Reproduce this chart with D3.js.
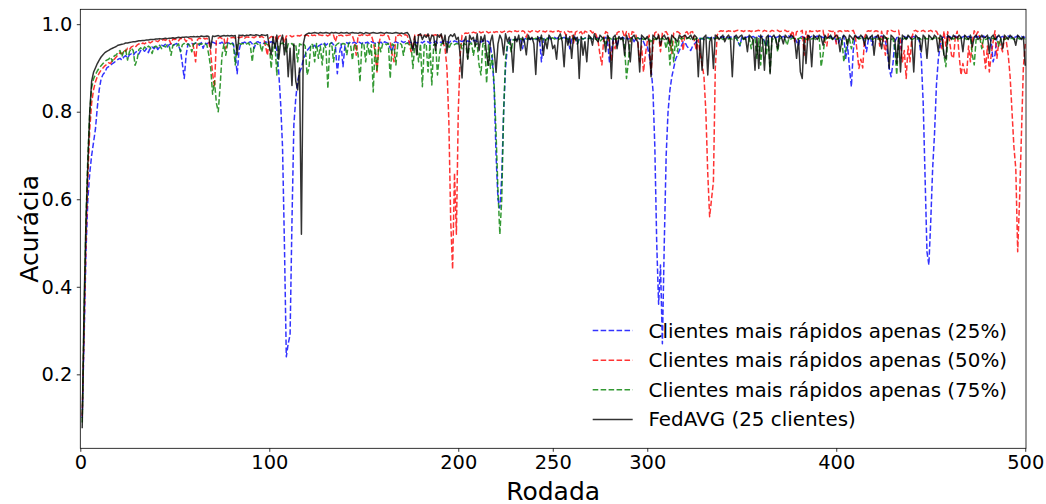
<!DOCTYPE html>
<html>
<meta charset="utf-8">
<head>
	<title>Acurácia por rodada</title>
	<script type="text/javascript" src="https://cdnjs.cloudflare.com/ajax/libs/d3/7.8.5/d3.min.js"></script>
	<style>
		body { margin: 0; background: #fff; }
		text { font-family: "DejaVu Sans", sans-serif; fill: #000; }
	</style>
</head>
<body>
	<div class="chart-container"></div>

<script type="text/javascript">
// acuracia por rodada (rodada 1 .. 500)
var rapidos25 = [
 .10,.28,.48,.60,.66,.70,.73,.76,.81,.85,.875,.885,.89,.90,.903,.906,.91,.913,.916,
 .92,.922,.918,.925,.928,.922,.93,.932,.928,.935,.938,.932,.94,.942,.938,.944,.935,.946,.948,.944,
 .95,.942,.948,.952,.95,.954,.948,.953,.955,.951,.954,.956,.95,.94,.91,.876,.93,.955,.953,.956,
 .954,.957,.955,.952,.958,.945,.957,.955,.958,.956,.959,.957,.955,.958,.956,.959,.954,.957,.958,.956,
 .959,.955,.93,.887,.94,.958,.957,.959,.956,.958,.96,.955,.945,.958,.96,.957,.959,.956,.96,.958,
 .957,.96,.958,.955,.94,.89,.82,.72,.50,.24,.27,.29,.55,.77,.83,.87,.89,.90,.92,.93,
 .94,.945,.95,.948,.952,.945,.95,.953,.955,.958,.952,.956,.955,.958,.953,.95,.887,.93,.955,.903,
 .95,.958,.955,.96,.957,.959,.956,.96,.958,.955,.96,.957,.959,.955,.96,.958,.956,.96,.957,.959,
 .955,.96,.958,.956,.945,.937,.958,.96,.957,.959,.961,.958,.96,.956,.96,.958,.945,.96,.957,.959,
 .96,.957,.961,.958,.96,.956,.96,.958,.961,.957,.96,.958,.962,.959,.96,.957,.961,.959,.962,.96,
 .958,.962,.96,.963,.959,.962,.96,.958,.962,.963,.96,.962,.959,.963,.961,.962,.96,.95,.92,.85,
 .70,.60,.58,.65,.80,.90,.95,.962,.965,.963,.966,.964,.967,.965,.944,.966,.968,.965,.967,.966,
 .968,.965,.967,.969,.914,.966,.968,.967,.969,.966,.968,.97,.967,.969,.966,.968,.97,.967,.969,.944,
 .966,.968,.97,.955,.967,.969,.966,.968,.97,.967,.969,.966,.968,.97,.967,.969,.966,.968,.97,.96,
 .914,.94,.967,.969,.95,.966,.968,.97,.967,.969,.966,.968,.97,.96,.967,.969,.966,.968,.96,.95,
 .95,.93,.90,.85,.72,.50,.36,.45,.27,.50,.70,.80,.85,.88,.90,.92,.93,.94,.95,.96,
 .958,.95,.944,.94,.95,.955,.96,.965,.968,.966,.969,.967,.97,.968,.971,.969,.967,.97,.968,.971,
 .969,.972,.97,.968,.971,.969,.972,.97,.96,.95,.97,.972,.969,.971,.973,.97,.972,.969,.971,.973,
 .97,.972,.96,.95,.971,.973,.97,.972,.969,.971,.973,.97,.972,.969,.971,.973,.97,.972,.969,.96,
 .952,.97,.972,.969,.971,.973,.97,.972,.969,.971,.973,.97,.972,.969,.971,.973,.97,.972,.969,.971,
 .96,.955,.965,.971,.973,.922,.95,.90,.857,.94,.972,.969,.971,.973,.97,.96,.937,.965,.971,.952,
 .97,.972,.969,.971,.973,.97,.96,.94,.899,.88,.91,.96,.969,.971,.944,.97,.972,.969,.971,.973,
 .97,.972,.969,.971,.96,.92,.82,.65,.48,.45,.55,.67,.75,.86,.92,.95,.969,.971,.973,.97,
 .972,.969,.971,.973,.97,.972,.969,.971,.973,.97,.972,.969,.971,.973,.97,.972,.969,.971,.973,.97,
 .972,.969,.96,.914,.93,.971,.973,.97,.972,.969,.971,.973,.97,.972,.969,.971,.973,.97,.972,.969,
 .971
];

var rapidos50 = [
 .105,.30,.50,.65,.76,.82,.85,.868,.88,.888,.895,.90,.905,.908,.912,.91,.918,.92,.925,
 .93,.935,.932,.94,.938,.945,.942,.948,.95,.947,.952,.955,.953,.957,.955,.958,.96,.957,.96,.962,
 .962,.96,.964,.962,.965,.963,.966,.964,.955,.966,.965,.967,.962,.968,.966,.967,.96,.968,.967,.966,
 .945,.914,.965,.968,.967,.969,.966,.968,.96,.935,.887,.856,.965,.968,.97,.967,.969,.944,.968,.97,
 .969,.97,.968,.971,.969,.97,.972,.968,.971,.97,.972,.97,.969,.972,.971,.97,.972,.969,.95,.929,
 .968,.972,.97,.973,.96,.972,.974,.971,.958,.973,.972,.974,.971,.973,.972,.974,.973,.975,.972,.974,
 .975,.973,.976,.974,.975,.973,.976,.975,.974,.976,.975,.973,.976,.974,.975,.96,.976,.974,.975,.973,
 .976,.974,.975,.976,.973,.96,.929,.975,.974,.976,.973,.975,.974,.976,.975,.96,.937,.891,.955,.975,
 .974,.976,.975,.973,.96,.93,.914,.975,.974,.976,.973,.975,.976,.974,.96,.937,.95,.975,.973,.976,
 .975,.974,.976,.975,.973,.976,.974,.975,.976,.973,.975,.974,.96,.944,.90,.78,.55,.44,.66,.52,
 .80,.93,.975,.978,.98,.979,.981,.98,.982,.98,.981,.983,.98,.982,.981,.983,.98,.982,.984,.981,
 .983,.982,.984,.981,.983,.985,.982,.984,.983,.981,.985,.983,.984,.982,.985,.983,.97,.984,.982,.985,
 .983,.984,.982,.985,.983,.984,.982,.985,.983,.984,.982,.984,.983,.985,.982,.984,.983,.975,.984,.982,
 .983,.957,.982,.984,.98,.983,.975,.984,.982,.983,.985,.98,.983,.975,.96,.93,.907,.97,.983,.98,
 .95,.918,.96,.944,.98,.983,.982,.984,.97,.983,.982,.96,.983,.981,.975,.96,.914,.95,.891,.93,
 .96,.975,.887,.95,.98,.983,.975,.937,.98,.982,.983,.975,.96,.933,.98,.982,.983,.98,.975,.94,
 .98,.983,.975,.982,.983,.96,.94,.965,.93,.91,.88,.80,.66,.56,.60,.64,.90,.975,.983,.985,
 .984,.986,.983,.985,.984,.986,.983,.985,.986,.984,.985,.983,.986,.984,.985,.983,.986,.984,.985,.986,
 .984,.983,.986,.984,.985,.983,.986,.984,.985,.986,.983,.984,.985,.986,.983,.984,.975,.985,.96,.983,
 .984,.983,.986,.929,.984,.96,.985,.983,.984,.986,.983,.985,.984,.986,.96,.95,.985,.984,.983,.986,
 .955,.984,.985,.983,.986,.984,.985,.983,.984,.986,.975,.94,.899,.92,.90,.97,.983,.985,.984,.986,
 .983,.985,.984,.95,.984,.96,.929,.985,.983,.986,.984,.983,.985,.986,.96,.914,.94,.876,.95,.914,
 .97,.984,.986,.983,.985,.984,.986,.983,.985,.984,.986,.983,.985,.984,.975,.96,.944,.984,.95,.983,
 .96,.929,.922,.97,.984,.93,.884,.91,.89,.884,.95,.914,.96,.985,.975,.983,.97,.96,.94,.899,
 .95,.891,.93,.96,.985,.922,.96,.95,.937,.97,.96,.93,.88,.80,.72,.67,.48,.60,.75,.90,
 .955
];

var rapidos75 = [
 .09,.33,.55,.70,.80,.855,.875,.885,.893,.90,.905,.91,.915,.918,.92,.925,.915,.928,.93,
 .935,.94,.926,.938,.942,.918,.937,.945,.94,.906,.918,.942,.946,.94,.948,.944,.95,.947,.933,.948,
 .95,.946,.952,.944,.95,.948,.953,.951,.929,.952,.954,.95,.955,.937,.953,.956,.952,.955,.95,.937,
 .955,.957,.953,.956,.954,.957,.955,.952,.93,.90,.84,.87,.82,.80,.86,.93,.955,.929,.957,.954,
 .956,.953,.907,.955,.957,.954,.956,.953,.955,.957,.95,.914,.955,.957,.954,.956,.937,.955,.957,.953,
 .955,.899,.95,.955,.884,.953,.955,.957,.952,.937,.955,.953,.956,.95,.954,.914,.955,.953,.956,.95,
 .884,.90,.955,.953,.914,.956,.922,.95,.907,.955,.945,.853,.955,.957,.914,.95,.955,.957,.953,.956,
 .955,.929,.957,.953,.918,.955,.95,.93,.868,.955,.957,.914,.955,.929,.953,.845,.955,.891,.957,.937,
 .955,.957,.953,.956,.876,.955,.952,.907,.955,.957,.953,.929,.955,.957,.953,.956,.899,.955,.95,.914,
 .955,.857,.953,.956,.891,.955,.861,.953,.955,.884,.929,.955,.957,.953,.956,.944,.955,.957,.953,.956,
 .955,.957,.944,.956,.953,.922,.955,.957,.929,.953,.955,.907,.884,.955,.957,.865,.953,.899,.93,.86,
 .75,.62,.52,.60,.80,.92,.955,.96,.937,.965,.963,.966,.964,.967,.965,.963,.966,.968,.965,.967,
 .966,.968,.965,.967,.969,.966,.96,.968,.965,.967,.969,.966,.968,.965,.967,.969,.966,.968,.965,.967,
 .966,.968,.965,.955,.967,.969,.966,.968,.965,.967,.969,.966,.968,.965,.967,.96,.966,.968,.955,.967,
 .969,.966,.968,.965,.967,.969,.966,.968,.95,.876,.914,.966,.968,.965,.967,.969,.966,.968,.965,.967,
 .969,.966,.96,.968,.965,.967,.969,.966,.968,.965,.944,.966,.907,.968,.914,.967,.937,.969,.966,.968,
 .965,.967,.969,.966,.968,.965,.967,.969,.966,.968,.965,.967,.969,.966,.968,.965,.967,.969,.966,.968,
 .965,.967,.969,.966,.968,.965,.967,.969,.96,.952,.966,.968,.965,.967,.969,.944,.966,.968,.922,.967,
 .907,.965,.966,.929,.968,.891,.967,.965,.968,.937,.966,.969,.967,.965,.952,.968,.966,.969,.967,.965,
 .967,.969,.966,.968,.965,.967,.969,.966,.968,.965,.967,.969,.903,.93,.968,.965,.967,.969,.966,.968,
 .965,.967,.969,.966,.914,.937,.969,.966,.944,.965,.967,.969,.966,.968,.965,.967,.969,.966,.968,.965,
 .967,.969,.966,.968,.965,.967,.969,.966,.968,.965,.967,.944,.884,.966,.968,.965,.967,.969,.966,.968,
 .965,.967,.969,.966,.968,.965,.967,.969,.966,.968,.965,.967,.969,.966,.968,.965,.967,.929,.903,.965,
 .967,.969,.966,.968,.965,.967,.969,.966,.968,.965,.967,.969,.93,.907,.965,.967,.969,.944,.968,.965,
 .967,.969,.966,.968,.965,.967,.95,.966,.968,.965,.967,.969,.966,.968,.965,.967,.969,.966,.968,.965,
 .967
];

var fedavg = [
 .077,.36,.55,.68,.80,.87,.89,.90,.91,.918,.925,.93,.935,.938,.94,.943,.945,.947,.949,
 .952,.953,.954,.955,.957,.957,.958,.959,.96,.96,.961,.962,.962,.963,.963,.964,.964,.965,.965,.965,
 .966,.966,.967,.966,.967,.968,.967,.968,.968,.969,.968,.969,.97,.969,.97,.97,.971,.97,.971,.971,
 .972,.971,.972,.971,.973,.972,.972,.973,.972,.945,.973,.972,.973,.974,.972,.973,.974,.973,.974,.973,
 .974,.973,.974,.93,.975,.974,.975,.973,.975,.974,.976,.975,.974,.976,.975,.973,.976,.975,.974,.976,
 .95,.93,.972,.945,.975,.92,.96,.975,.93,.966,.88,.945,.86,.955,.87,.85,.90,.52,.955,.975,
 .978,.98,.979,.98,.981,.98,.979,.981,.98,.98,.981,.98,.979,.981,.98,.981,.98,.979,.981,.98,
 .98,.981,.979,.98,.981,.98,.98,.979,.981,.98,.978,.981,.98,.979,.98,.981,.98,.979,.98,.981,
 .98,.979,.981,.98,.98,.979,.98,.981,.98,.979,.98,.978,.98,.981,.975,.96,.94,.972,.93,.975,
 .978,.965,.975,.97,.978,.96,.975,.972,.94,.976,.97,.978,.955,.975,.935,.97,.976,.972,.978,.965,
 .97,.93,.877,.96,.972,.92,.975,.965,.97,.95,.978,.94,.972,.96,.975,.93,.906,.96,.975,.94,
 .89,.955,.975,.965,.93,.978,.96,.97,.95,.89,.972,.96,.975,.94,.97,.96,.93,.975,.965,.97,
 .955,.885,.972,.96,.975,.929,.965,.944,.975,.968,.944,.952,.92,.97,.978,.96,.903,.975,.952,.972,
 .922,.975,.965,.97,.876,.972,.929,.96,.914,.975,.97,.952,.978,.965,.96,.975,.97,.968,.937,.975,
 .965,.876,.97,.975,.944,.972,.965,.97,.929,.975,.96,.914,.97,.975,.965,.96,.891,.975,.97,.965,
 .972,.96,.88,.975,.97,.965,.975,.952,.97,.975,.965,.97,.952,.975,.97,.965,.96,.975,.97,.972,
 .975,.968,.97,.975,.965,.975,.97,.88,.965,.895,.97,.975,.884,.96,.97,.899,.975,.972,.965,.97,
 .975,.96,.97,.975,.965,.88,.97,.975,.968,.972,.975,.965,.97,.937,.975,.97,.965,.895,.97,.899,
 .975,.965,.895,.97,.975,.887,.97,.975,.965,.944,.975,.97,.955,.975,.97,.968,.975,.972,.965,.922,
 .965,.891,.876,.97,.91,.975,.97,.903,.975,.97,.965,.975,.97,.952,.975,.968,.97,.975,.965,.97,
 .975,.97,.937,.965,.975,.97,.952,.975,.97,.965,.975,.97,.968,.975,.97,.952,.975,.965,.97,.975,
 .929,.97,.975,.965,.944,.975,.97,.965,.899,.975,.97,.965,.91,.97,.891,.975,.97,.965,.975,.97,
 .965,.891,.975,.97,.968,.937,.975,.97,.922,.975,.97,.965,.975,.97,.937,.975,.97,.929,.922,.975,
 .97,.965,.975,.97,.968,.975,.97,.937,.975,.97,.965,.975,.948,.97,.975,.965,.97,.975,.968,.97,
 .975,.933,.97,.975,.965,.97,.975,.968,.944,.975,.97,.965,.975,.97,.968,.952,.975,.97,.965,.972,
 .905
];

var seriesNames = ["Clientes mais rápidos apenas (25%)", "Clientes mais rápidos apenas (50%)",
                   "Clientes mais rápidos apenas (75%)", "FedAVG (25 clientes)"];
var xTicks = [0, 100, 200, 250, 300, 400, 500];
var yTicks = [0.2, 0.4, 0.6, 0.8, 1.0];

var width = 1046, height = 504;
var margin = {top: 9.3, right: 20, bottom: 55.7, left: 80.3};

var series = [
	{name: seriesNames[0], values: rapidos25, color: "#0000ff", dash: "5.55,2.4"},
	{name: seriesNames[1], values: rapidos50, color: "#ff0000", dash: "5.55,2.4"},
	{name: seriesNames[2], values: rapidos75, color: "#008000", dash: "5.55,2.4"},
	{name: seriesNames[3], values: fedavg, color: "#000000", dash: null}
];

var svg = d3.select(".chart-container").append("svg")
	.attr("width", width)
	.attr("height", height);

var x = d3.scaleLinear().domain([0, 500.4]).range([margin.left, width - margin.right]);
var y = d3.scaleLinear().domain([0.031, 1.034]).range([height - margin.bottom, margin.top]);

var line = d3.line()
	.x(function(d, i) { return x(i + 1); })
	.y(function(d) { return y(d); });

var plot = svg.append("g").attr("class", "lines");

series.forEach(function(s) {
	plot.append("path")
		.datum(s.values)
		.attr("fill", "none")
		.attr("stroke", s.color)
		.attr("stroke-opacity", 0.8)
		.attr("stroke-width", 1.5)
		.attr("stroke-linejoin", "round")
		.attr("stroke-dasharray", s.dash)
		.attr("d", line);
});

// eixos
var xAxis = svg.append("g")
	.attr("transform", "translate(0," + (height - margin.bottom) + ")")
	.call(d3.axisBottom(x).tickValues(xTicks).tickSize(3.5).tickPadding(3.5).tickFormat(d3.format("d")));

var yAxis = svg.append("g")
	.attr("transform", "translate(" + margin.left + ",0)")
	.call(d3.axisLeft(y).tickValues(yTicks).tickSize(3.5).tickPadding(4.5).tickFormat(d3.format(".1f")));

[xAxis, yAxis].forEach(function(ax) {
	ax.select(".domain").remove();
	ax.selectAll(".tick line").attr("stroke", "#000").attr("stroke-width", 0.8);
	ax.selectAll(".tick text").style("font-size", "19.4px").attr("fill", "#000");
});

svg.append("rect")
	.attr("x", margin.left)
	.attr("y", margin.top)
	.attr("width", width - margin.right - margin.left)
	.attr("height", height - margin.bottom - margin.top)
	.attr("fill", "none")
	.attr("stroke", "#000")
	.attr("stroke-width", 0.8);

svg.append("text")
	.attr("x", (margin.left + width - margin.right) / 2)
	.attr("y", 499.5)
	.attr("text-anchor", "middle")
	.style("font-size", "25px")
	.text("Rodada");

svg.append("text")
	.attr("transform", "translate(37.5," + ((margin.top + height - margin.bottom) / 2) + ") rotate(-90)")
	.attr("text-anchor", "middle")
	.style("font-size", "25px")
	.text("Acurácia");

// legenda
var legend = svg.append("g").attr("class", "legend");
series.forEach(function(s, i) {
	var ly = 330.6 + i * 29.6;
	legend.append("line")
		.attr("x1", 592.7).attr("x2", 632.7)
		.attr("y1", ly).attr("y2", ly)
		.attr("stroke", s.color)
		.attr("stroke-opacity", 0.8)
		.attr("stroke-width", 1.5)
		.attr("stroke-dasharray", s.dash);
	legend.append("text")
		.attr("x", 648.5)
		.attr("y", ly)
		.attr("dy", "0.35em")
		.style("font-size", "19.9px")
		.text(s.name);
});
</script>
</body>
</html>
